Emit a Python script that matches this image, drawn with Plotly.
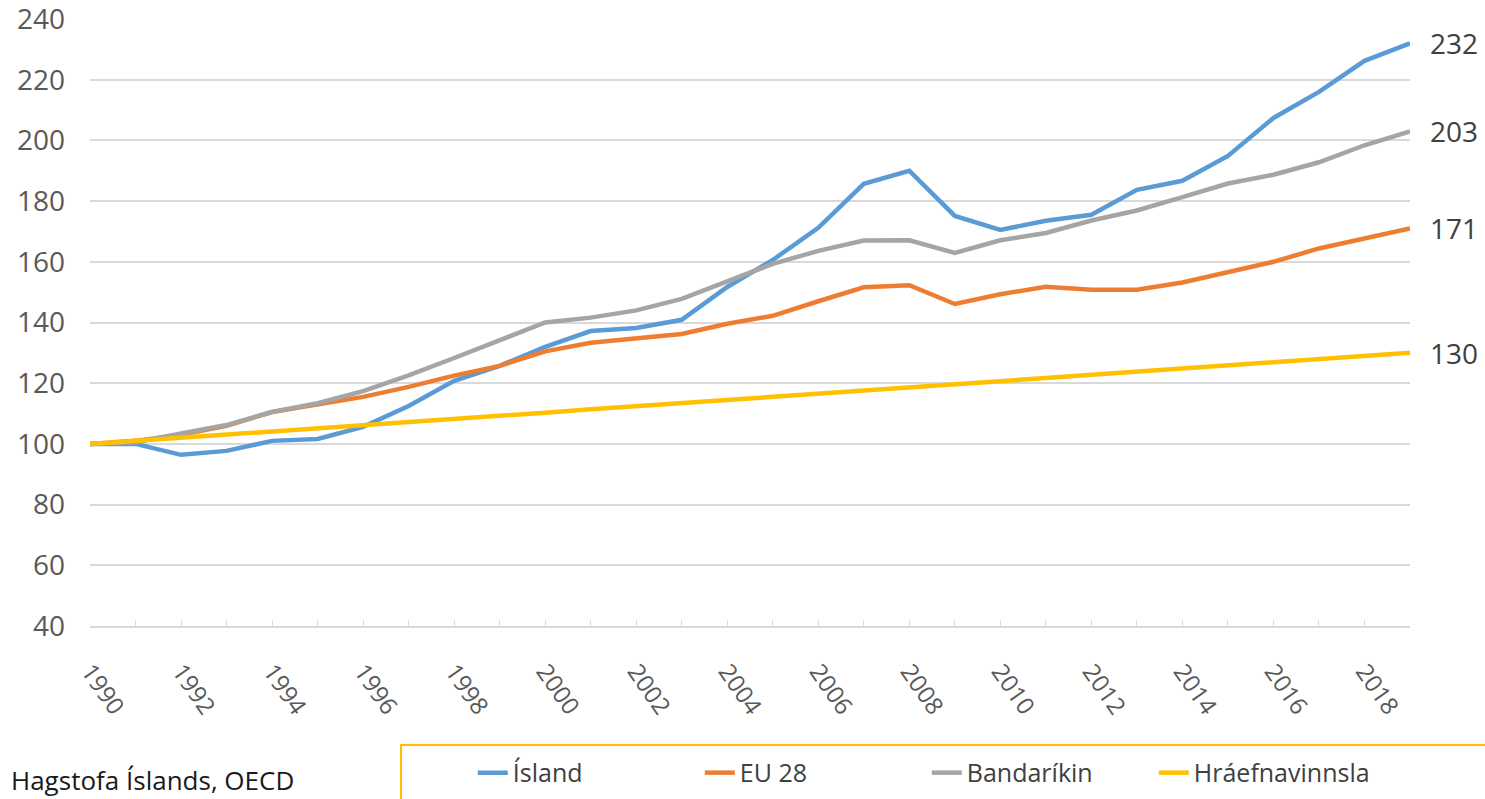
import plotly.graph_objects as go

years = list(range(1990, 2020))

island = [100, 100, 96.4, 97.7, 101, 101.6, 105.6, 112.5, 120.8, 125.7,
          132, 137.2, 138.2, 140.9, 151.7, 160.6, 171.2, 185.7, 190, 175.1,
          170.5, 173.5, 175.5, 183.7, 186.7, 194.9, 207.4, 216, 226.2, 232]
eu28 = [100, 101, 103, 106, 110.5, 113, 115.5, 118.8, 122.5, 125.7,
        130.5, 133.3, 134.8, 136.2, 139.6, 142.2, 147, 151.6, 152.3, 146.1,
        149.3, 151.8, 150.8, 150.8, 153.2, 156.5, 160, 164.4, 167.8, 171]
usa = [100, 100.5, 103.4, 106.2, 110.5, 113.4, 117.4, 122.6, 128.3, 134.3,
       140, 141.6, 144, 147.8, 153.7, 159.3, 163.6, 167, 167.1, 162.9,
       167.1, 169.5, 173.6, 176.9, 181.3, 185.8, 188.7, 192.8, 198.4, 203]
hraefni = [100, 101, 102.1, 103.1, 104.1, 105.2, 106.2, 107.2, 108.3, 109.3,
           110.3, 111.4, 112.4, 113.4, 114.5, 115.5, 116.6, 117.6, 118.6, 119.7,
           120.7, 121.7, 122.8, 123.8, 124.8, 125.9, 126.9, 127.9, 129, 130]

names = ["Ísland", "EU 28", "Bandaríkin", "Hráefnavinnsla"]
colors = ["#5B9BD5", "#ED7D31", "#A5A5A5", "#FFC000"]
series = [island, eu28, usa, hraefni]

fig = go.Figure()
for name, col, vals in zip(names, colors, series):
    fig.add_trace(go.Scatter(x=years, y=vals, name=name, mode="lines",
                             line=dict(color=col, width=4.5), hoverinfo="skip"))

# end labels
for vals in series:
    fig.add_annotation(x=years[-1], y=vals[-1], xref="x", yref="y",
                       text=str(round(vals[-1])), showarrow=False,
                       xanchor="left", yanchor="middle", xshift=18,
                       font=dict(size=28, color="#404040", family="Open Sans"))

fig.add_annotation(x=-0.061, y=-0.2537, xref="paper", yref="paper",
                   text="Hagstofa Íslands, OECD", showarrow=False,
                   xanchor="left", yanchor="middle",
                   font=dict(size=26, color="#1a1a1a", family="Open Sans"))

# legend frame
fig.add_shape(type="rect", xref="paper", yref="paper",
              x0=0.2356, x1=1.2, y0=-0.196, y1=-0.4,
              line=dict(color="#FFC000", width=2), fillcolor="rgba(0,0,0,0)")

fig.update_layout(
    width=1485, height=799,
    margin=dict(l=90, r=75, t=19, b=173, autoexpand=False),
    plot_bgcolor="white", paper_bgcolor="white",
    font=dict(family="Open Sans", color="#595959"),
    showlegend=True,
    legend=dict(orientation="h", x=0.290, xanchor="left", y=-0.242, yanchor="middle",
                font=dict(size=25, color="#404040", family="Open Sans"),
                entrywidth=182, entrywidthmode="pixels",
                bgcolor="rgba(0,0,0,0)", borderwidth=0),
    xaxis=dict(range=[1990, 2019], tickmode="linear", tick0=1990, dtick=2,
               tickangle=55, tickfont=dict(size=24, color="#595959", family="Open Sans"),
               showgrid=False, showline=True, linecolor="#D9D9D9", linewidth=1.5,
               ticks="inside", ticklen=6, tickcolor="#D9D9D9",
               minor=dict(dtick=1, ticks="inside", ticklen=6, tickcolor="#D9D9D9"),
               zeroline=False, automargin=False, ticklabelstandoff=20,
               ticklabeloverflow="allow"),
    yaxis=dict(range=[40, 240], tickmode="linear", tick0=40, dtick=20,
               tickfont=dict(size=28, color="#595959", family="Open Sans"),
               showgrid=True, gridcolor="#D9D9D9", gridwidth=1.5,
               zeroline=False, ticks="", ticklabelstandoff=24, automargin=False,
               ticklabeloverflow="allow"),
)

fig.write_html("out.html", config={"displayModeBar": False},
               post_script="document.body.style.margin='0';document.body.style.overflow='hidden';")
